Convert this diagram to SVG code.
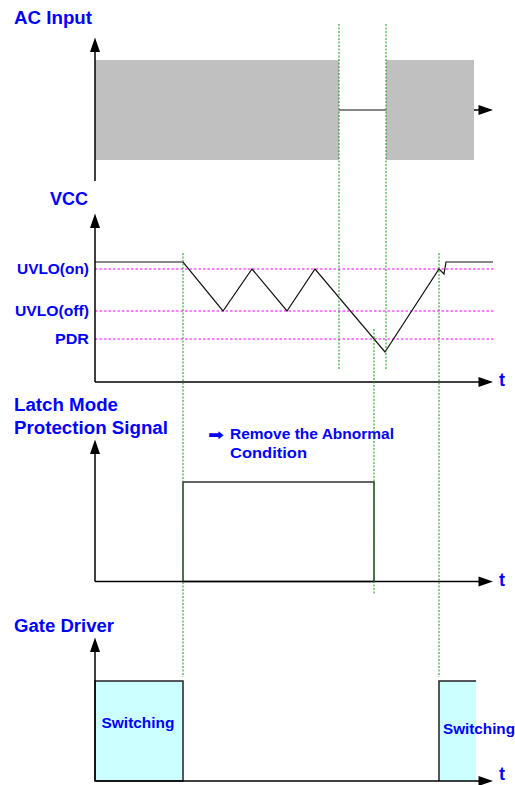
<svg xmlns="http://www.w3.org/2000/svg" width="515" height="785" viewBox="0 0 515 785">
<defs>
<style>
.title{font-family:"Liberation Sans",Arial,sans-serif;font-weight:bold;font-size:18px;fill:#0000FF}
.lbl{font-family:"Liberation Sans",Arial,sans-serif;font-weight:bold;font-size:15.4px;fill:#0000FF}
.note{font-family:"Liberation Sans",Arial,sans-serif;font-weight:bold;font-size:14.8px;fill:#0000FF}
.axis{stroke:#000;stroke-width:1.5;fill:none}
.trace{stroke:#111;stroke-width:1.2;fill:none}
.guide{stroke:#119911;stroke-width:1;stroke-dasharray:2,1.5;fill:none}
.level{stroke:#FF00FF;stroke-width:1;stroke-dasharray:2.5,2;fill:none}
</style>
</defs>
<rect width="515" height="785" fill="#fff"/>

<g id="ac-input">
<text class="title" x="14" y="24" textLength="78" lengthAdjust="spacingAndGlyphs">AC Input</text>
<rect x="95" y="60" width="244" height="100" fill="#C0C0C0"/>
<rect x="386" y="60" width="88" height="100" fill="#C0C0C0"/>
<line class="trace" x1="339" y1="110" x2="386" y2="110"/>
<path d="M95,181 V51" class="axis"/>
<path d="M95,37.5 L100,52 L90,52 z" fill="#000"/>
<line x1="474" y1="110" x2="480" y2="110" stroke="#000" stroke-width="1.5"/>
<path d="M493,110 L478.5,105 L478.5,115 z" fill="#000"/>
</g>

<g id="vcc">
<text class="title" x="50" y="205" textLength="38" lengthAdjust="spacingAndGlyphs">VCC</text>
<text class="lbl" x="17" y="274" textLength="72" lengthAdjust="spacingAndGlyphs">UVLO(on)</text>
<text class="lbl" x="15" y="316" textLength="74" lengthAdjust="spacingAndGlyphs">UVLO(off)</text>
<text class="lbl" x="55" y="344" textLength="34" lengthAdjust="spacingAndGlyphs">PDR</text>
<line class="level" x1="95" y1="269" x2="494" y2="269"/>
<line class="level" x1="95" y1="311" x2="494" y2="311"/>
<line class="level" x1="95" y1="339" x2="494" y2="339"/>
<polyline class="trace" points="95,262 183,262 223,311 252,269 287,311 315,269 385,352 439,269 444,274 446,262 493,262"/>
<path d="M95,382 V227" class="axis"/>
<path d="M95,213.5 L100,228 L90,228 z" fill="#000"/>
<path d="M95,382 H480" class="axis"/>
<path d="M493,382 L478.5,377 L478.5,387 z" fill="#000"/>
<text class="title" x="499" y="386">t</text>
</g>

<g id="latch">
<text class="title" x="14" y="411" textLength="104" lengthAdjust="spacingAndGlyphs">Latch Mode</text>
<text class="title" x="14" y="434" textLength="154" lengthAdjust="spacingAndGlyphs">Protection Signal</text>
<text x="208" y="439.5" textLength="16" lengthAdjust="spacingAndGlyphs" style="font-family:'DejaVu Sans',sans-serif;font-weight:bold;font-size:15px;fill:#0000FF">➡</text>
<text class="note" x="230" y="439" textLength="164" lengthAdjust="spacingAndGlyphs">Remove the Abnormal</text>
<text class="note" x="230" y="458" textLength="77" lengthAdjust="spacingAndGlyphs">Condition</text>
<rect x="183" y="482" width="191" height="99.5" fill="none" stroke="#333" stroke-width="1.5"/>
<path d="M95,581.5 V453" class="axis"/>
<path d="M95,439.5 L100,454 L90,454 z" fill="#000"/>
<path d="M95,581.5 H480" class="axis"/>
<path d="M493,581.5 L478.5,576.5 L478.5,586.5 z" fill="#000"/>
<text class="title" x="499" y="586">t</text>
</g>

<g id="gate-driver">
<text class="title" x="14" y="632" textLength="100" lengthAdjust="spacingAndGlyphs">Gate Driver</text>
<rect x="95" y="681" width="88" height="100" fill="#CCFFFF" stroke="#222" stroke-width="1.5"/>
<rect x="439" y="681" width="37" height="100" fill="#CCFFFF"/>
<path d="M439,781 V681 H476" fill="none" stroke="#222" stroke-width="1.5"/>
<text class="lbl" x="101.5" y="727.5" textLength="73" lengthAdjust="spacingAndGlyphs">Switching</text>
<text class="lbl" x="443" y="733.5" textLength="72" lengthAdjust="spacingAndGlyphs">Switching</text>
<path d="M95,781 V651" class="axis"/>
<path d="M95,637.5 L100,652 L90,652 z" fill="#000"/>
<path d="M95,781 H480" class="axis"/>
<path d="M493,781 L478.5,776 L478.5,786 z" fill="#000"/>
<text class="title" x="499" y="780">t</text>
</g>

<g id="connectors">
<line class="guide" x1="339" y1="24" x2="339" y2="370"/>
<line class="guide" x1="386" y1="24" x2="386" y2="370"/>
<line class="guide" x1="183" y1="253" x2="183" y2="677"/>
<line class="guide" x1="374" y1="329" x2="374" y2="594"/>
<line class="guide" x1="439" y1="253" x2="439" y2="677"/>
</g>
</svg>
